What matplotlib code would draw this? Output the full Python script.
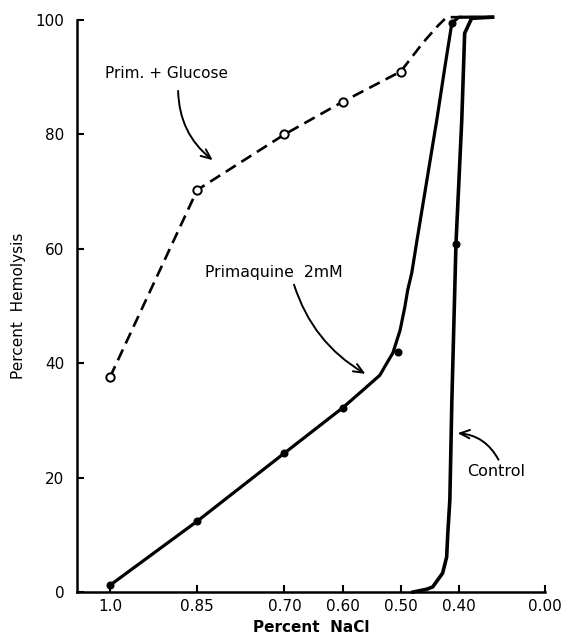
import numpy as np
import matplotlib
matplotlib.use("Agg")
import matplotlib.pyplot as plt

plt.rcParams['font.family'] = ['DejaVu Sans']

# Ejes: % NaCl (invertido) y % hemolisis
tick_pos = [1.0, 0.85, 0.70, 0.60, 0.50, 0.40, 0.252]
tick_lbl = ["1.0", "0.85", "0.70", "0.60", "0.50", "0.40", "0.00"]
yticks = [0, 20, 40, 60, 80, 100]

# Prim. + Glucose (discontinua, circulos abiertos)
glu_x = [1.0, 0.85, 0.70, 0.60, 0.50, 0.462, 0.436, 0.421, 0.342]
glu_y = [37.6, 70.3, 80.0, 85.7, 91.0, 96.0, 99.0, 100.5, 100.5]
glu_marks = [0, 1, 2, 3, 4]

# Primaquine 2mM (curva continua)
prim_x = [1.0, 0.85, 0.70, 0.60, 0.565, 0.536, 0.524, 0.5135, 0.501, 0.493,
          0.488, 0.481, 0.472, 0.438, 0.424, 0.412, 0.40, 0.342]
prim_y = [1.2, 12.4, 24.3, 32.2, 35.3, 37.9, 40.0, 41.8, 45.8, 49.8,
          52.8, 55.8, 61.5, 82.5, 91.8, 99.5, 100.5, 100.5]
# puntos medidos
prim_pts_x = [1.0, 0.85, 0.70, 0.60, 0.505, 0.412]
prim_pts_y = [1.2, 12.4, 24.3, 32.2, 42.0, 99.5]

# Control
ctrl_x = [0.479, 0.455, 0.445, 0.428, 0.421, 0.419, 0.4155, 0.412, 0.405,
          0.395, 0.39, 0.378, 0.342]
ctrl_y = [0.0, 0.5, 0.9, 3.3, 6.1, 10.3, 16.1, 33.6, 60.8,
          82.5, 97.7, 100.3, 100.5]
ctrl_pts_x = [0.405]
ctrl_pts_y = [60.8]

fig = plt.figure(figsize=(5.67, 6.38), dpi=100, facecolor="white")
ax = fig.add_axes([0.136, 0.072, 0.825, 0.8966])

ax.plot(glu_x, glu_y, color="black", lw=1.9, linestyle=(0, (4.5, 2.5)),
        marker="o", markersize=6, markerfacecolor="white", markeredgewidth=1.4,
        markevery=glu_marks, clip_on=False, zorder=3)
ax.plot(prim_x, prim_y, color="black", lw=2.3, solid_joinstyle="round",
        clip_on=False, zorder=3)
ax.plot(prim_pts_x, prim_pts_y, "o", color="black", markersize=4.8,
        clip_on=False, zorder=4)
ax.plot(ctrl_x, ctrl_y, color="black", lw=2.6, solid_joinstyle="round",
        clip_on=False, zorder=3)
ax.plot(ctrl_pts_x, ctrl_pts_y, "o", color="black", markersize=4.8,
        clip_on=False, zorder=4)

ax.set_xlim(1.0567, 0.252)
ax.set_ylim(0, 100)
ax.set_xticks(tick_pos)
ax.set_xticklabels(tick_lbl)
ax.set_yticks(yticks)

for s in ["top", "right"]:
    ax.spines[s].set_visible(False)
for s in ["left", "bottom"]:
    ax.spines[s].set_linewidth(1.8)

ax.tick_params(direction="in", length=5, width=1.5, labelsize=11)
ax.tick_params(axis="y", pad=9)
ax.tick_params(axis="x", pad=5)

ax.set_xlabel("Percent  NaCl", fontsize=11, fontweight="bold", labelpad=4)
ax.set_ylabel("Percent  Hemolysis", fontsize=11, labelpad=7)

# Etiquetas y flechas
ax.text(1.0086, 90.7, "Prim. + Glucose", fontsize=11, va="center", ha="left")
ax.text(0.8367, 55.8, "Primaquine  2mM", fontsize=11.3, va="center", ha="left")
ax.text(0.3863, 21.0, "Control", fontsize=11.5, va="center", ha="left")

arrow = dict(arrowstyle="->,head_length=0.7,head_width=0.3", color="black", lw=1.4)
ax.annotate("", xy=(0.8195, 75.2), xytext=(0.883, 88.1),
            arrowprops=dict(arrow, connectionstyle="arc3,rad=0.25"))
ax.annotate("", xy=(0.5565, 37.9), xytext=(0.685, 54.2),
            arrowprops=dict(arrow, connectionstyle="arc3,rad=0.2"))
ax.annotate("", xy=(0.407, 27.8), xytext=(0.3296, 22.7),
            arrowprops=dict(arrow, connectionstyle="arc3,rad=0.3"))

plt.savefig("out.png", dpi=100, facecolor="white")
